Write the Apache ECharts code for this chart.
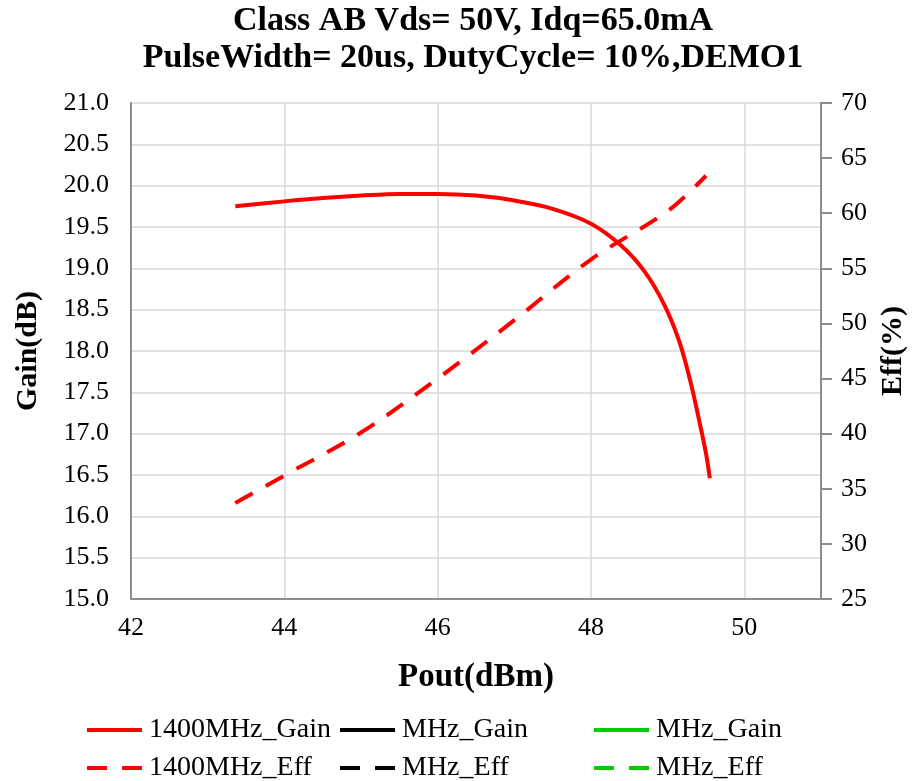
<!DOCTYPE html>
<html>
<head>
<meta charset="utf-8">
<script src="https://cdn.jsdelivr.net/npm/echarts@6/dist/echarts.min.js"></script>
<style>
  html, body { margin: 0; padding: 0; background: #fff; }
  #main { width: 923px; height: 781px; }
</style>
</head>
<body>
<div id="main"></div>
<script>
// 1400MHz curves
var poutGain = [43.36, 44, 44.5, 45, 45.5, 46, 46.5, 47, 47.5, 48, 48.4, 48.7, 48.95, 49.15, 49.3, 49.42, 49.5, 49.55];
var gain1400 = [19.75, 19.81, 19.85, 19.88, 19.9, 19.9, 19.88, 19.82, 19.72, 19.54, 19.27, 18.96, 18.57, 18.12, 17.62, 17.12, 16.76, 16.46];
var poutEff = [43.36, 44, 45, 46, 47, 48, 49, 49.5];
var eff1400 = [33.7, 36.2, 40.1, 45.0, 50.3, 55.8, 60.2, 63.4];

var serif = 'Liberation Serif';
var labelMap = { g1: '1400MHz_Gain', g2: 'MHz_Gain', g3: 'MHz_Gain', e1: '1400MHz_Eff', e2: 'MHz_Eff', e3: 'MHz_Eff' };

function pairs(xs, ys) {
  var out = [];
  for (var i = 0; i < xs.length; i++) out.push([xs[i], ys[i]]);
  return out;
}

function leg(name, left, top) {
  return {
    data: [name], left: left, top: top, padding: 0,
    itemWidth: 55, itemHeight: 14, selectedMode: false,
    itemStyle: { opacity: 0 },
    lineStyle: { width: 4 },
    formatter: function (n) { return labelMap[n]; },
    textStyle: { fontFamily: serif, fontSize: 28, color: '#000', padding: [0, 0, 0, 2] }
  };
}

function lineSeries(name, color, dashed, data, yIdx) {
  return {
    name: name, type: 'line', yAxisIndex: yIdx, data: data,
    symbol: 'none', smooth: 0.35,
    itemStyle: { color: color },
    lineStyle: { color: color, width: 4, type: dashed ? [20, 15] : 'solid' }
  };
}

var chart = echarts.init(document.getElementById('main'));
chart.setOption({
  animation: false,
  title: {
    text: 'Class AB Vds= 50V, Idq=65.0mA\nPulseWidth= 20us, DutyCycle= 10%,DEMO1',
    left: 468, top: -2, textAlign: 'center',
    textStyle: { fontFamily: serif, fontWeight: 'bold', fontSize: 34, lineHeight: 37, color: '#000' }
  },
  grid: { left: 131, right: 102, top: 103, bottom: 182 },
  legend: [
    leg('g1', 85, 716), leg('g2', 338, 716), leg('g3', 592, 716),
    leg('e1', 85, 754), leg('e2', 338, 754), leg('e3', 592, 754)
  ],
  xAxis: {
    type: 'value', min: 42, max: 51, interval: 2,
    name: 'Pout(dBm)', nameLocation: 'middle', nameGap: 62,
    nameTextStyle: { fontFamily: serif, fontWeight: 'bold', fontSize: 33, color: '#000' },
    axisLine: { show: true, lineStyle: { color: '#8c8c8c', width: 2 } },
    axisTick: { show: false },
    axisLabel: { showMaxLabel: false, margin: 16, fontFamily: serif, fontSize: 26, color: '#000' },
    splitLine: { show: true, lineStyle: { color: '#d9d9d9', width: 1.5 } }
  },
  yAxis: [
    {
      type: 'value', min: 15, max: 21, interval: 0.5,
      name: 'Gain(dB)', nameLocation: 'middle', nameGap: 88, nameRotate: 90,
      nameTextStyle: { fontFamily: serif, fontWeight: 'bold', fontSize: 30, color: '#000' },
      axisLine: { show: true, lineStyle: { color: '#8c8c8c', width: 2 } },
      axisTick: { show: false },
      axisLabel: { margin: 22, fontFamily: serif, fontSize: 26, color: '#000',
        formatter: function (v) { return v.toFixed(1); } },
      splitLine: { show: true, lineStyle: { color: '#d9d9d9', width: 1.5 } }
    },
    {
      type: 'value', min: 25, max: 70, interval: 5, position: 'right',
      name: 'Eff(%)', nameLocation: 'middle', nameGap: 57, nameRotate: 90,
      nameTextStyle: { fontFamily: serif, fontWeight: 'bold', fontSize: 30, color: '#000' },
      axisLine: { show: true, lineStyle: { color: '#8c8c8c', width: 2 } },
      axisTick: { show: true, length: 11, lineStyle: { color: '#8c8c8c', width: 2 } },
      axisLabel: { margin: 20, fontFamily: serif, fontSize: 26, color: '#000' },
      splitLine: { show: false }
    }
  ],
  series: [
    lineSeries('g1', '#ff0000', false, pairs(poutGain, gain1400), 0),
    lineSeries('g2', '#000000', false, [], 0),
    lineSeries('g3', '#00cc00', false, [], 0),
    lineSeries('e1', '#ff0000', true, pairs(poutEff, eff1400), 1),
    lineSeries('e2', '#000000', true, [], 1),
    lineSeries('e3', '#00cc00', true, [], 1)
  ]
});
</script>
</body>
</html>
